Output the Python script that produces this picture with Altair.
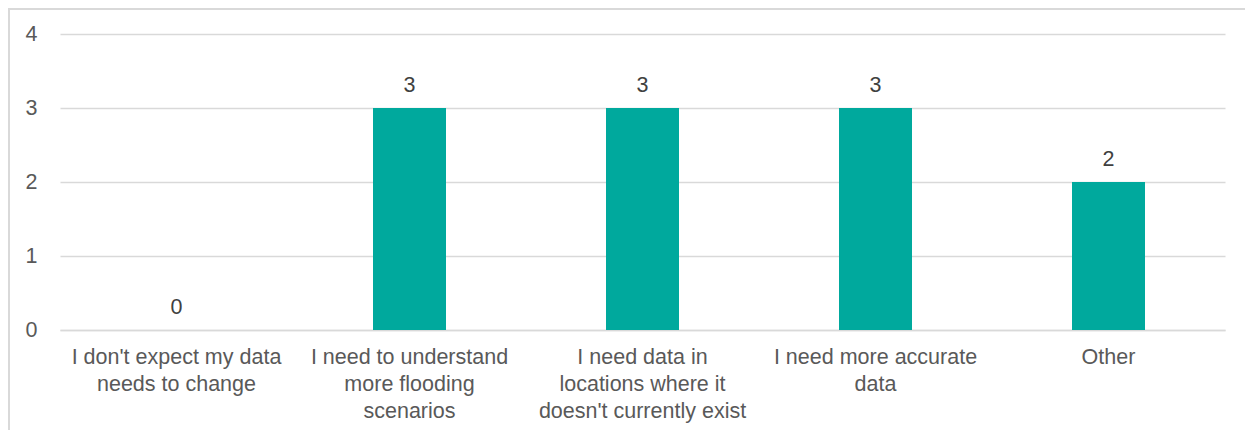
import altair as alt
import pandas as pd

categories = [
    "I don't expect my data|needs to change",
    "I need to understand|more flooding|scenarios",
    "I need data in|locations where it|doesn't currently exist",
    "I need more accurate|data",
    "Other",
]
counts = [0, 3, 3, 3, 2]
y_ticks = [0, 1, 2, 3, 4]

df = pd.DataFrame({"category": categories, "count": counts})

FONT = "Liberation Sans"
FS = 21.5
TEXT = "#595959"
W, H = 1165, 296

x = alt.X(
    "category:N",
    sort=categories,
    title=None,
    scale=alt.Scale(paddingInner=0, paddingOuter=0),
    axis=alt.Axis(
        labelAngle=0,
        labelExpr="split(datum.value, '|')",
        labelFont=FONT,
        labelFontSize=FS,
        labelColor=TEXT,
        labelLineHeight=27,
        labelPadding=16,
        labelBaseline="top",
        ticks=False,
        domain=True,
        domainColor="#d9d9d9",
        domainWidth=1.5,
        grid=False,
        labelLimit=300,
    ),
)
y = alt.Y(
    "count:Q",
    title=None,
    scale=alt.Scale(domain=[0, 4], nice=False),
    axis=alt.Axis(
        values=y_ticks,
        format="d",
        labelFont=FONT,
        labelFontSize=FS,
        labelColor=TEXT,
        labelPadding=23,
        ticks=False,
        domain=False,
        grid=True,
        gridColor="#d9d9d9",
        gridWidth=1.5,
    ),
)

bars = alt.Chart(df).mark_bar(size=73, color="#00A99D").encode(x=x, y=y)
labels = alt.Chart(df).mark_text(
    font=FONT, fontSize=FS, color="#404040", baseline="alphabetic", dy=-16
).encode(x=x, y=y, text=alt.Text("count:Q", format="d"))

frame = alt.Chart(pd.DataFrame({"a": [0]})).mark_rect(
    fill=None, stroke="#d9d9d9", strokeWidth=2, clip=False
).encode(
    x=alt.value(-51), x2=alt.value(W + 40), y=alt.value(-25), y2=alt.value(H + 120)
)

chart = (
    alt.layer(frame, bars, labels)
    .properties(
        width=W,
        height=H,
        autosize=alt.AutoSizeParams(type="none"),
        padding={"left": 52, "top": 26, "right": 20, "bottom": 100},
    )
    .configure_view(stroke=None)
)

chart.save("out.html", embed_options={"renderer": "svg", "actions": False})
